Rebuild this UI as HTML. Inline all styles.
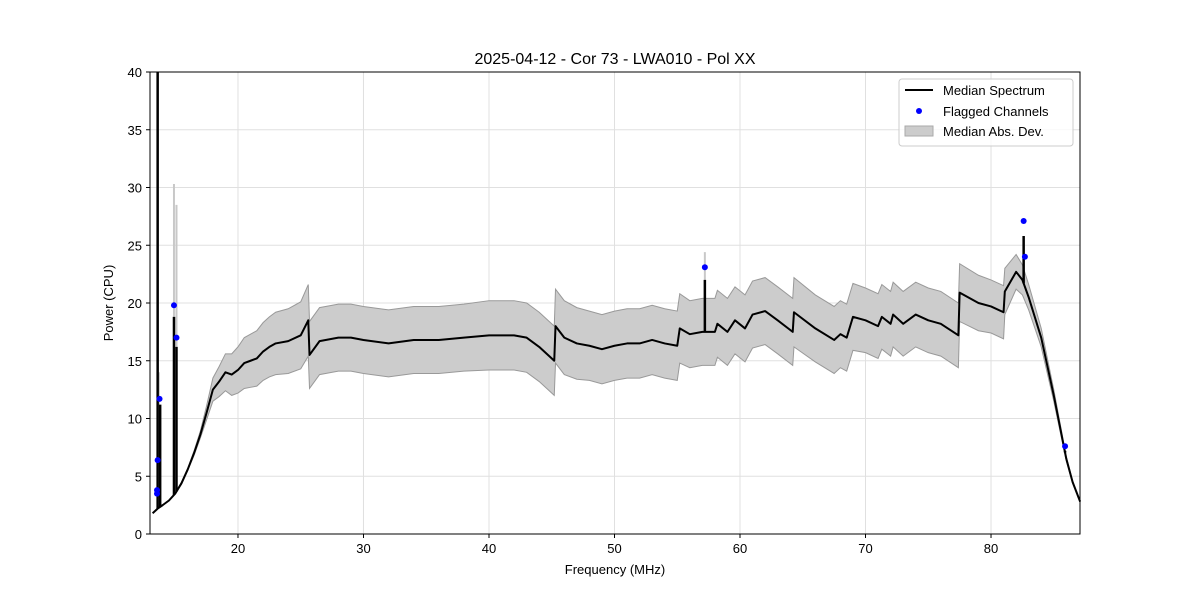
<!DOCTYPE html>
<html><head><meta charset="utf-8"><style>
body{margin:0;background:#fff;}
svg{font-family:"Liberation Sans","DejaVu Sans",sans-serif;}
</style></head><body>
<svg id="chart" width="1200" height="600" xmlns="http://www.w3.org/2000/svg">
<rect width="1200" height="600" fill="#fff"/>
<text x="615" y="64" font-size="16" text-anchor="middle">2025-04-12 - Cor 73 - LWA010 - Pol XX</text>
<g id="grid"></g>
<g id="band"></g>
<g id="lines"></g>
<g id="dots"></g>
<rect x="150" y="72" width="930" height="462" fill="none" stroke="#000" stroke-width="1"/>
<g id="ticks"></g>
<text x="615" y="574" font-size="13" text-anchor="middle">Frequency (MHz)</text>
<text x="113" y="303" font-size="13" text-anchor="middle" transform="rotate(-90 113 303)">Power (CPU)</text>
<g>
<rect x="899" y="79" width="174" height="67" rx="3" fill="#fff" fill-opacity="0.8" stroke="#ccc"/>
<g><line x1="905" y1="90" x2="933" y2="90" stroke="#000" stroke-width="2"/><text x="943" y="95" font-size="13">Median Spectrum</text></g>
<g><circle cx="919" cy="111" r="3" fill="#00f"/><text x="943" y="116" font-size="13">Flagged Channels</text></g>
<g><rect x="905" y="126" width="28" height="10" fill="#ccc" stroke="#aaa"/><text x="943" y="136" font-size="13">Median Abs. Dev.</text></g>
</g>
</svg>
<script>
const freqs=[13.2,13.6,14,14.5,15,15.5,16,16.5,17,17.5,18,18.5,19,19.5,20,20.5,21,21.5,22,22.5,23,24,25,25.6,25.7,26.5,28,29,30,32,34,36,38,40,42,43,44,45.2,45.3,46,47,48,49,50,51,52,53,54,55,55.2,56,57,58,58.2,59,59.6,60.4,61,62,63,64.2,64.3,66,67.5,68,68.5,69,70,71,71.3,72,72.2,73,74,75,76,77.4,77.5,79,80,81,81.1,82,82.5,83,84,85,86,86.5,87.1];
const median=[1.8,2.2,2.5,2.9,3.5,4.4,5.6,7,8.6,10.5,12.5,13.2,14,13.8,14.2,14.8,15,15.2,15.8,16.2,16.5,16.7,17.2,18.5,15.5,16.7,17,17,16.8,16.5,16.8,16.8,17,17.2,17.2,17,16.2,15,18,17,16.5,16.3,16,16.3,16.5,16.5,16.8,16.5,16.3,17.8,17.3,17.5,17.5,18.2,17.5,18.5,17.8,19,19.3,18.5,17.5,19.2,17.8,16.8,17.3,17,18.8,18.5,18,18.8,18.2,19,18.2,19,18.5,18.2,17.2,20.9,20,19.7,19.2,21,22.7,22,20.5,17,12,6.5,4.5,2.8];
const mad=[0,0,0,0,0,0.1,0.1,0.2,0.3,0.6,1,1.3,1.6,1.8,2,2.2,2.3,2.4,2.5,2.6,2.7,2.8,2.9,3.1,2.9,2.9,2.9,2.9,2.9,2.9,2.9,2.9,2.9,3,3,3,3,3,3.2,3.2,3.1,3,3,3,3,3,3,3,3,3,2.9,2.9,2.9,2.9,2.9,2.9,2.9,2.9,2.9,2.9,2.9,3,2.9,2.9,2.9,2.9,2.9,2.8,2.8,2.8,2.8,2.8,2.8,2.8,2.8,2.8,2.8,2.5,2.4,2.3,2.3,2,1.5,1.3,1.1,0.8,0.5,0.2,0.1,0];
const spikeF=[13.6,13.8,14.9,15.1,57.2,82.6,85.9];
const spikeV=[40,11.2,18.8,16.2,22,25.8,7.2];
const spikeMadF=[14.9,15.1,57.2,13.7];
const spikeMadV=[30.3,28.5,24.4,14];
const flagF=[13.55,13.55,13.6,13.75,14.9,15.1,57.2,82.6,82.7,85.9];
const flagV=[3.5,3.8,6.4,11.7,19.8,17,23.1,27.1,24,7.6];
const xTicks=[20,30,40,50,60,70,80];
const yTicks=[0,5,10,15,20,25,30,35,40];
const NS="http://www.w3.org/2000/svg";
const X0=150,X1=1080,FMIN=12.99,FMAX=87.09,Y0=534,Y1=72,VMIN=0,VMAX=40;
function xs(f){return X0+(f-FMIN)/(FMAX-FMIN)*(X1-X0);}
function ys(v){return Y0-(Math.min(v,VMAX+1)-VMIN)/(VMAX-VMIN)*(Y0-Y1);}
function mk(tag,attrs,parent){const e=document.createElementNS(NS,tag);for(const k in attrs)e.setAttribute(k,attrs[k]);document.getElementById(parent).appendChild(e);return e;}
function interp(f){for(let i=1;i<freqs.length;i++){if(f<=freqs[i]){const t=(f-freqs[i-1])/(freqs[i]-freqs[i-1]);return median[i-1]+t*(median[i]-median[i-1]);}}return median[median.length-1];}
xTicks.forEach(t=>{
 const g=mk('line',{x1:xs(t),x2:xs(t),y1:Y1,y2:Y0,stroke:'#e0e0e0','stroke-width':1},'grid');
 
 
 const tk=mk('line',{x1:xs(t),x2:xs(t),y1:Y0,y2:Y0+4,stroke:'#000'},'ticks');
 
 
 const tx=mk('text',{x:xs(t),y:Y0+19,'font-size':13,'text-anchor':'middle'},'ticks');
 tx.textContent=t;
 
 
});
yTicks.forEach(t=>{
 const g=mk('line',{x1:X0,x2:X1,y1:ys(t),y2:ys(t),stroke:'#e0e0e0','stroke-width':1},'grid');
 
 
 const tk=mk('line',{x1:X0-4,x2:X0,y1:ys(t),y2:ys(t),stroke:'#000'},'ticks');
 
 
 const tx=mk('text',{x:X0-8,y:ys(t)+5,'font-size':13,'text-anchor':'end'},'ticks');
 tx.textContent=t;
 
 
});
let up=freqs.map((f,i)=>xs(f)+','+ys(median[i]+mad[i]));
let dn=freqs.map((f,i)=>xs(f)+','+ys(median[i]-mad[i])).reverse();
const band=mk('polygon',{points:up.concat(dn).join(' '),fill:'#cccccc',stroke:'#999','stroke-width':1},'band');


spikeMadF.forEach((f,i)=>{
 const l=mk('line',{x1:xs(f),x2:xs(f),y1:ys(spikeMadV[i]),y2:ys(interp(f)),stroke:'#c8c8c8','stroke-width':2},'band');
 
 
});
const line=mk('polyline',{points:freqs.map((f,i)=>xs(f)+','+ys(median[i])).join(' '),fill:'none',stroke:'#000','stroke-width':2,'stroke-linejoin':'round'},'lines');


spikeF.forEach((f,i)=>{
 const l=mk('line',{x1:xs(f),x2:xs(f),y1:ys(spikeV[i]),y2:ys(interp(f)),stroke:'#000','stroke-width':2.5},'lines');
 
 
});
flagF.forEach((f,i)=>{
 const c=mk('circle',{cx:xs(f),cy:ys(flagV[i]),r:3,fill:'#0000ff'},'dots');
 
 
});
</script>
</body></html>
